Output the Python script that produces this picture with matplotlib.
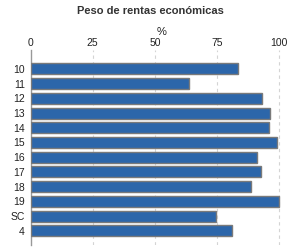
import matplotlib
matplotlib.use("Agg")
import matplotlib.pyplot as plt

# data
categories = ["10", "11", "12", "13", "14", "15", "16", "17", "18", "19", "SC", "4"]
values = [83.5, 63.8, 93.1, 96.3, 95.9, 98.9, 91.1, 92.7, 88.7, 100.0, 74.6, 81.0]
xticks = [0, 25, 50, 75, 100]

plt.rcParams["font.family"] = ["Liberation Sans", "DejaVu Sans"]

fig = plt.figure(figsize=(3, 2.5), dpi=100)
ax = fig.add_axes([0.1017, 0.02, 0.871, 0.78])

pos = list(range(len(categories)))
ax.barh(pos, values, height=0.75, color="#2c66aa", edgecolor="#7a7a7a", linewidth=1.0, zorder=3)

ax.set_xlim(0, 105)
ax.set_ylim(len(categories) - 0.03, -1.29)
ax.set_yticks(pos)
ax.set_yticklabels(categories, fontsize=7.5, color="#222222")
ax.set_xticks(xticks)
ax.set_xticklabels([str(t) for t in xticks], fontsize=7.5, color="#222222")
ax.xaxis.tick_top()
ax.xaxis.set_label_position("top")
ax.set_xlabel("%", fontsize=8, color="#222222", labelpad=2)
ax.tick_params(axis="x", length=0, pad=1.5)
ax.tick_params(axis="y", length=0, pad=4)

for t in xticks[1:]:
    ax.axvline(t, color="#d4d4d4", linestyle=(0, (3, 3)), linewidth=0.8, zorder=1)

for s in ["top", "right", "bottom"]:
    ax.spines[s].set_visible(False)
ax.spines["left"].set_color("#999999")
ax.spines["left"].set_linewidth(1.0)

fig.text(0.5, 0.955, "Peso de rentas económicas", ha="center", va="center",
         fontsize=8, fontweight="bold", color="#333333")

fig.savefig("out.png", dpi=100)
